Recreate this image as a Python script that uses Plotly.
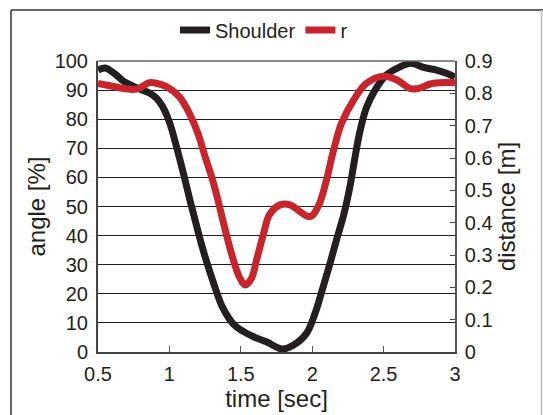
import plotly.graph_objects as go

shoulder_t = [0.50, 0.55, 0.62, 0.68, 0.75, 0.80, 0.86, 0.91, 0.95, 1.00, 1.05, 1.10, 1.15,
              1.20, 1.25, 1.31, 1.37, 1.45, 1.52, 1.60, 1.68, 1.79, 1.87, 1.96, 2.02,
              2.07, 2.125, 2.17, 2.22, 2.265, 2.30, 2.335, 2.38, 2.44, 2.52, 2.615, 2.69, 2.78,
              2.87, 2.94, 3.00]
shoulder_angle = [96.9, 97.6, 95.5, 93.0, 91.3, 90.2, 89.0, 87.2, 84.5, 79.0, 70.5, 61.0, 51.0,
                  41.5, 32.7, 23.6, 15.6, 9.5, 7.0, 5.0, 3.5, 1.0, 2.4, 6.4, 13.3,
                  21.3, 30.5, 38.5, 47.0, 57.0, 67.0, 76.0, 84.0, 90.0, 95.2, 98.0, 99.2, 97.8,
                  96.9, 95.8, 94.5]

r_t = [0.50, 0.60, 0.68, 0.77, 0.86, 0.90, 0.98, 1.07, 1.14, 1.20, 1.25, 1.30, 1.34, 1.38, 1.44,
       1.49, 1.53, 1.575, 1.61, 1.66, 1.70, 1.775, 1.845, 1.915, 1.97, 2.00, 2.05, 2.10, 2.15,
       2.205, 2.29, 2.38, 2.50, 2.59, 2.685, 2.73, 2.85, 3.00]
r_dist = [0.831, 0.822, 0.815, 0.813, 0.833, 0.832, 0.821, 0.789, 0.738, 0.676, 0.604, 0.536,
          0.470, 0.397, 0.296, 0.232, 0.207, 0.228, 0.284, 0.367, 0.424, 0.455, 0.455, 0.434,
          0.419, 0.422, 0.458, 0.532, 0.625, 0.707, 0.779, 0.831, 0.853, 0.842, 0.815, 0.814,
          0.831, 0.833]

x_ticks = [0.5, 1, 1.5, 2, 2.5, 3]
y_left_ticks = [0, 10, 20, 30, 40, 50, 60, 70, 80, 90, 100]
y_right_ticks = [0, 0.1, 0.2, 0.3, 0.4, 0.5, 0.6, 0.7, 0.8, 0.9]

FONT = "Liberation Sans, Arial, Helvetica, sans-serif"
BLACK = "#231f20"
RED = "#c8242b"

fig = go.Figure()
fig.add_trace(go.Scatter(x=shoulder_t, y=shoulder_angle, name="Shoulder", mode="lines",
                         line=dict(color=BLACK, width=7, shape="spline", smoothing=1)))
fig.add_trace(go.Scatter(x=r_t, y=r_dist, name="r", mode="lines", yaxis="y2",
                         line=dict(color=RED, width=7, shape="spline", smoothing=1)))

W, H = 543, 415
L, R, T, B = 98, 88, 61, 63
pw, ph = W - L - R, H - T - B

def px(x):
    return (x - L) / pw

def py(y):
    return (H - B - y) / ph

fig.update_layout(
    width=W, height=H,
    margin=dict(l=L, r=R, t=T, b=B, autoexpand=False),
    paper_bgcolor="white", plot_bgcolor="white",
    font=dict(family=FONT, size=20, color=BLACK),
    showlegend=True,
    legend=dict(orientation="h", x=px(264), y=py(30), xanchor="center", yanchor="middle",
                font=dict(size=20, color=BLACK), bgcolor="rgba(0,0,0,0)",
                itemwidth=30, tracegroupgap=0),
    xaxis=dict(range=[0.5, 3], tickvals=x_ticks, ticktext=["0.5", "1", "1.5", "2", "2.5", "3"],
               ticks="inside", ticklen=6, tickcolor="#555", showgrid=False, zeroline=False,
               showline=True, linecolor="#444", linewidth=2, mirror=False, ticklabelstandoff=3,
               title=dict(text="time [sec]", standoff=6), automargin=False),
    yaxis=dict(range=[0, 100], tickvals=y_left_ticks, showgrid=True, gridcolor=BLACK, gridwidth=1,
               zeroline=False, showline=True, linecolor="#444", linewidth=2, ticks="",
               ticklabelstandoff=4,
               title=dict(text="angle [%]", standoff=2), automargin=False),
    yaxis2=dict(range=[0, 0.9], tickvals=y_right_ticks,
                ticktext=["0", "0.1", "0.2", "0.3", "0.4", "0.5", "0.6", "0.7", "0.8", "0.9"],
                overlaying="y", side="right", showgrid=False, zeroline=False,
                showline=True, linecolor="#555", linewidth=1.5, ticks="inside", ticklen=5,
                tickcolor="#444", ticklabelstandoff=4,
                title=dict(text="distance [m]", standoff=4), automargin=False),
    shapes=[
        dict(type="line", xref="paper", yref="paper", x0=0, x1=1, y0=1, y1=1,
             line=dict(color="#666", width=1.5)),
        dict(type="line", xref="paper", yref="paper", x0=px(11), x1=px(11), y0=py(10), y1=py(420),
             line=dict(color="#333", width=1.5)),
        dict(type="line", xref="paper", yref="paper", x0=px(11), x1=px(545), y0=py(10), y1=py(10),
             line=dict(color="#333", width=1.5)),
        dict(type="line", xref="paper", yref="paper", x0=px(541.5), x1=px(541.5), y0=py(10), y1=py(420),
             line=dict(color="#bbb", width=1.5)),
    ],
)

fig.write_html("out.html")
